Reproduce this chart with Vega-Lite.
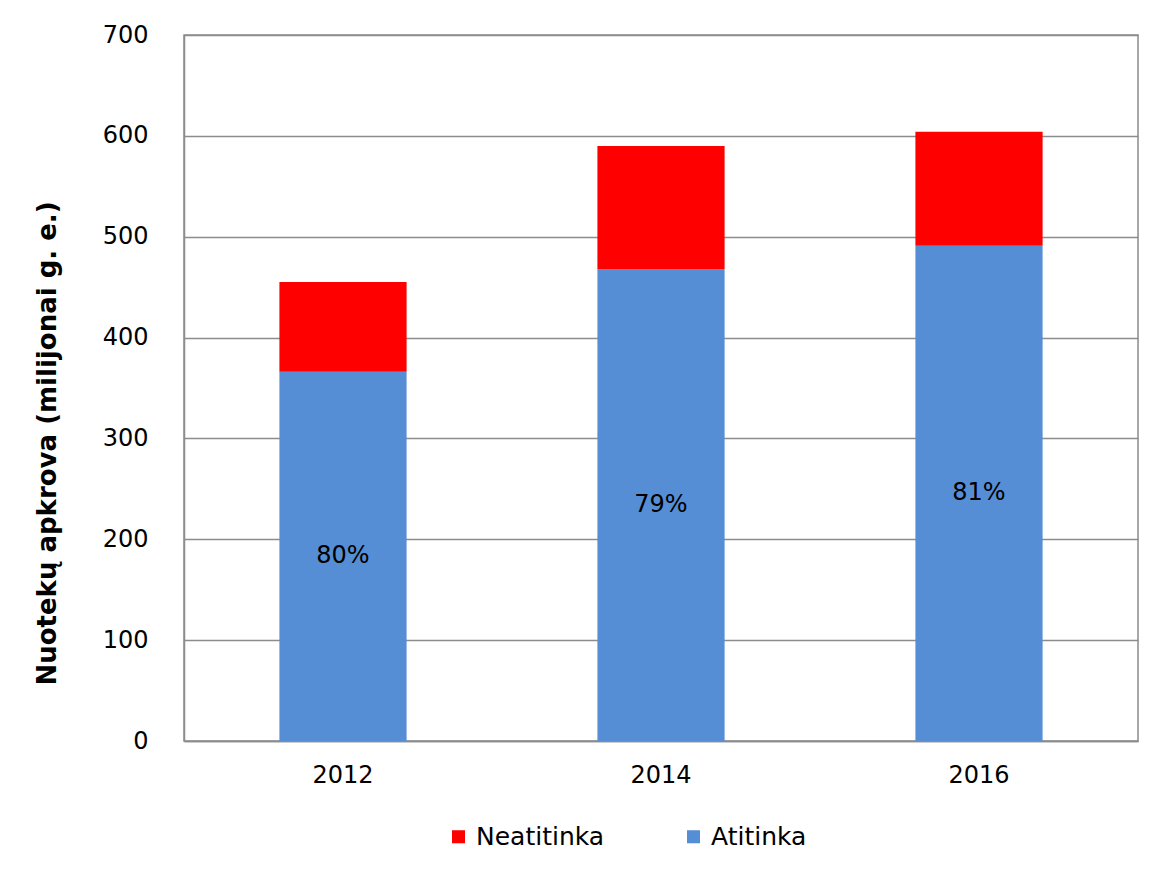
{
  "$schema": "https://vega.github.io/schema/vega-lite/v6.json",
  "width": 954,
  "height": 706,
  "autosize": {"type": "none"},
  "padding": {"left": 184, "top": 35, "right": 17, "bottom": 131},
  "background": "white",
  "config": {
    "font": "DejaVu Sans",
    "view": {"stroke": "#8c8c8c", "strokeWidth": 1.5},
    "axis": {"labelFont": "DejaVu Sans", "labelFontSize": 24, "labelColor": "#000000", "titleFont": "DejaVu Sans"}
  },
  "data": {
    "values": [
      {"year": "2012", "category": "Atitinka", "value": 366, "pct": "80%"},
      {"year": "2012", "category": "Neatitinka", "value": 89, "pct": ""},
      {"year": "2014", "category": "Atitinka", "value": 468, "pct": "79%"},
      {"year": "2014", "category": "Neatitinka", "value": 122, "pct": ""},
      {"year": "2016", "category": "Atitinka", "value": 491, "pct": "81%"},
      {"year": "2016", "category": "Neatitinka", "value": 113, "pct": ""}
    ]
  },
  "layer": [
    {
      "mark": {"type": "bar"},
      "encoding": {
        "x": {
          "field": "year", "type": "nominal",
          "scale": {"paddingInner": 0.6, "paddingOuter": 0.3},
          "axis": {"title": null, "labelAngle": 0, "ticks": false, "labelPadding": 22, "domainColor": "#8c8c8c", "domainWidth": 1.5}
        },
        "y": {
          "field": "value", "type": "quantitative", "stack": "zero",
          "scale": {"domain": [0, 700]},
          "axis": {
            "title": "Nuotekų apkrova (milijonai g. e.)",
            "titleFontSize": 26, "titleFontWeight": "bold", "titleColor": "#000000", "titlePadding": 42,
            "titleY": 408,
            "values": [0, 100, 200, 300, 400, 500, 600, 700],
            "ticks": false, "labelPadding": 36,
            "grid": true, "gridColor": "#8c8c8c", "gridWidth": 1.5,
            "domainColor": "#8c8c8c", "domainWidth": 1.5
          }
        },
        "color": {
          "field": "category", "type": "nominal",
          "scale": {"domain": ["Neatitinka", "Atitinka"], "range": ["#ff0000", "#558ed5"]},
          "legend": {
            "title": null, "orient": "none", "direction": "horizontal",
            "legendX": 262, "legendY": 789,
            "symbolType": "square", "symbolSize": 170, "symbolStrokeWidth": 0,
            "labelFontSize": 25, "labelColor": "#000000", "labelFont": "DejaVu Sans",
            "columnPadding": 76, "labelOffset": 5
          }
        },
        "order": {"field": "category", "sort": "ascending"}
      }
    },
    {
      "transform": [
        {"filter": "datum.category == 'Atitinka'"},
        {"calculate": "datum.value / 2", "as": "mid"}
      ],
      "mark": {"type": "text", "fontSize": 24, "color": "#000000", "font": "DejaVu Sans"},
      "encoding": {
        "x": {"field": "year", "type": "nominal"},
        "y": {"field": "mid", "type": "quantitative"},
        "text": {"field": "pct"}
      }
    }
  ]
}
